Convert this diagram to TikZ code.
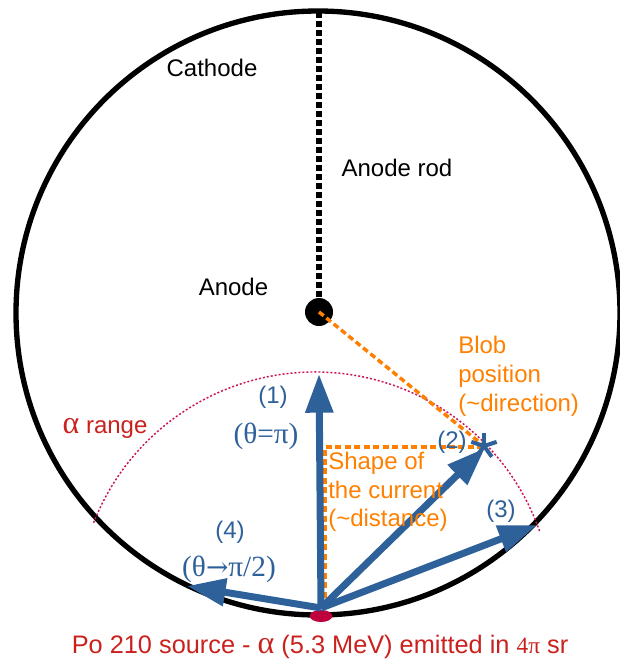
\documentclass[tikz,border=0pt]{standalone}
\usepackage{fontspec}
\setmainfont{Liberation Sans}
\newfontfamily\symfont{Liberation Serif}
\newfontfamily\arrfont{DejaVu Serif}
\usetikzlibrary{arrows.meta,shapes.geometric}
\definecolor{cblue}{RGB}{46,97,153}
\definecolor{corange}{RGB}{255,128,0}
\definecolor{cred}{RGB}{201,33,30}
\definecolor{cmag}{RGB}{204,20,90}
\definecolor{csrc}{RGB}{190,0,60}
\begin{document}
\begin{tikzpicture}[x=0.75pt,y=-0.75pt,
  lbl/.style={font=\fontsize{18}{21.75}\selectfont, inner sep=0pt},
  glbl/.style={font=\symfont\fontsize{22}{24}\selectfont, inner sep=0pt},
  barrow/.style={cblue, line width=5.25pt, -{Triangle[length=29pt,width=20pt]}},
  odash/.style={corange, line width=2.6pt, dash pattern=on 4.5pt off 2.6pt},
  arange/.style={cmag, line width=1.1pt, dash pattern=on 1.5pt off 1.5pt}]
\useasboundingbox (0,0) rectangle (619,668);
% cathode
\coordinate (cc) at (318,313);
\draw[line width=4pt] (cc) circle[radius=226.5pt];
% anode rod
\coordinate (rodtop) at (319,12);
\node[circle, fill=black, minimum size=21pt, inner sep=0pt] (anode) at (319,312) {};
\draw[line width=4.5pt, dash pattern=on 4.5pt off 2.25pt] (rodtop) -- (anode.north);
% alpha range arc
\coordinate (ac) at (315,610);
\draw[arange] (ac) ++(158.5:178.5pt) arc[start angle=158.5, end angle=19, radius=178.5pt];
% source
\coordinate (src) at (321,608);
\node[ellipse, fill=csrc, minimum width=17pt, minimum height=9pt, inner sep=0pt] (source) at (321,616) {};
% orange construction lines
\coordinate (star) at (484,446);
\coordinate (corner) at (325,447);
\coordinate (cbot) at (325,607);
\draw[odash] (anode.center) -- (star);
\draw[odash] (cbot) -- (corner) -- (star |- corner);
% blue arrows
\coordinate (t1) at (319,374);
\coordinate (t2) at (485,448);
\coordinate (t3) at (537,525);
\coordinate (t4) at (187,586);
\draw[barrow] (src) -- (t1);
\draw[barrow] (src) -- (t2);
\draw[barrow] (src) -- (t3);
\draw[barrow] (src) -- (t4);
% star
\foreach \a in {90,18,-54,-126,162} \draw[cblue, line width=3pt] (star) -- ++(\a:10pt);
% texts
\node[lbl] (cathodelbl) at (212,68) {Cathode};
\node[lbl] (rodlbl) at (397,168) {Anode rod};
\node[lbl] (anodelbl) at (233.5,287) {Anode};
\node[lbl, corange, anchor=west, align=left] (blob) at (458,376) {Blob\\position\\(\textasciitilde direction)};
\node[lbl, corange, anchor=west, align=left, font=\fontsize{18}{21.4}\selectfont] (shape) at (328,492) {Shape of\\the current\\(\textasciitilde distance)};
\node[lbl, cblue] (l1) at (273,397) {(1)};
\node[glbl, cblue] (l1b) at (266,436) {(θ=π)};
\node[lbl, cblue] (l2) at (452,442) {(2)};
\node[lbl, cblue] (l3) at (501,511) {(3)};
\node[lbl, cblue] (l4) at (230,532) {(4)};
\node[glbl, cblue] (l4b) at (229,569) {(θ{\arrfont\fontsize{20}{24}\selectfont →}π/2)};
\node[lbl, cred] (rangelbl) at (105,428) {{\symfont\fontsize{24}{24}\selectfont α} range};
\node[lbl, cred, font=\fontsize{19}{22}\selectfont] (srclbl) at (320,647) {Po 210 source - {\symfont\fontsize{24}{24}\selectfont α} (5.3 MeV) emitted in {\symfont\fontsize{17.5}{17.5}\selectfont 4π} sr};
\end{tikzpicture}
\end{document}
